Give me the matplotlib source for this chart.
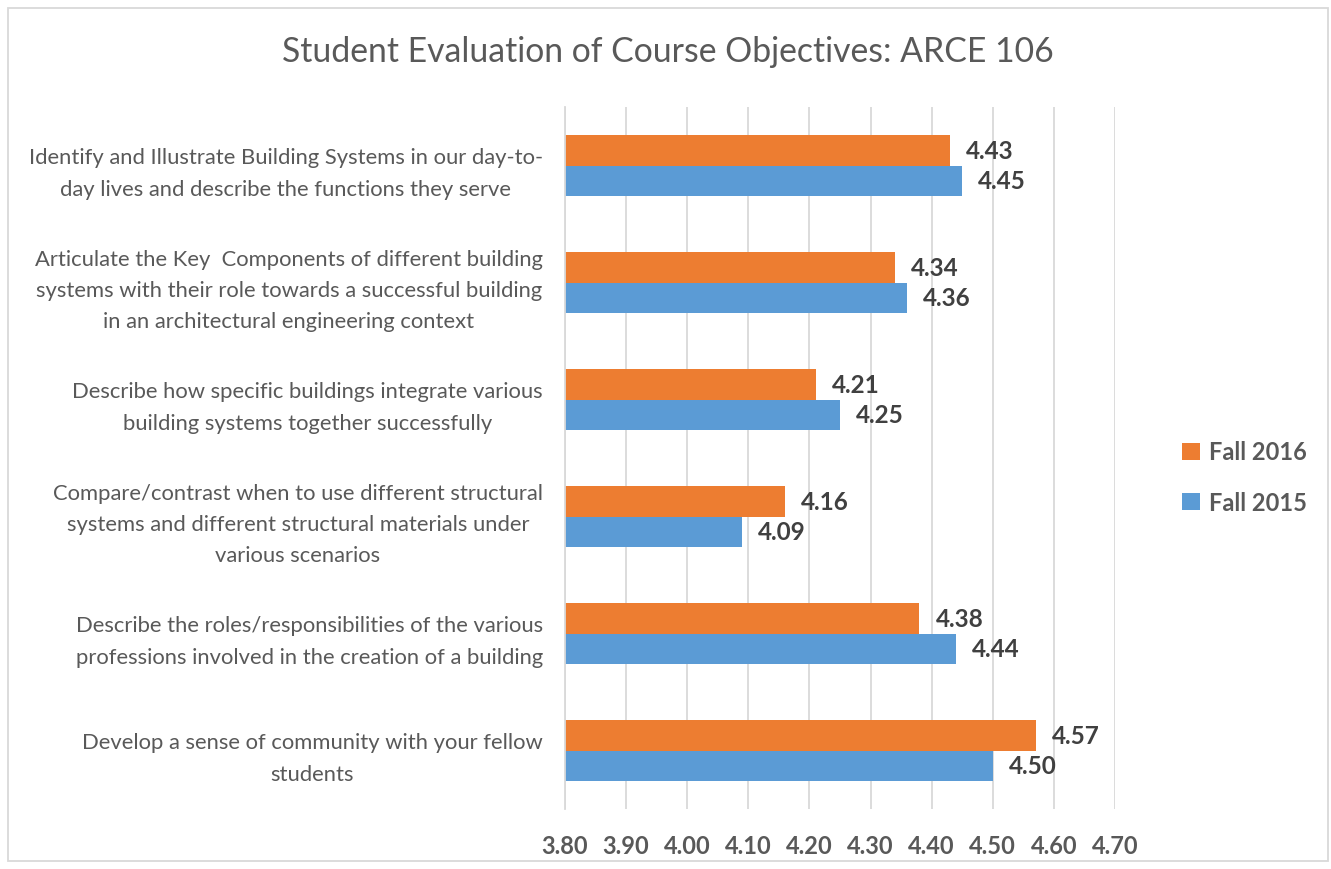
import matplotlib
matplotlib.use("Agg")
import matplotlib.pyplot as plt
from matplotlib.patches import Rectangle
import numpy as np

plt.rcParams['font.family'] = ['Lato', 'DejaVu Sans']

categories = [
    "Identify and Illustrate Building Systems in our day-to-\nday lives and describe the functions they serve",
    "Articulate the Key  Components of different building\nsystems with their role towards a successful building\nin an architectural engineering context",
    "Describe how specific buildings integrate various\nbuilding systems together successfully",
    "Compare/contrast when to use different structural\nsystems and different structural materials under\nvarious scenarios",
    "Describe the roles/responsibilities of the various\nprofessions involved in the creation of a building",
    "Develop a sense of community with your fellow\nstudents",
]
fall_2016 = [4.43, 4.34, 4.21, 4.16, 4.38, 4.57]
fall_2015 = [4.45, 4.36, 4.25, 4.09, 4.44, 4.50]
series_names = ["Fall 2016", "Fall 2015"]
x_ticks = [3.80, 3.90, 4.00, 4.10, 4.20, 4.30, 4.40, 4.50, 4.60, 4.70]
title = "Student Evaluation of Course Objectives: ARCE 106"

ORANGE = "#ED7D31"
BLUE = "#5B9BD5"
TEXT = "#595959"
GRID = "#D9D9D9"

W, H = 1331, 870
fig = plt.figure(figsize=(W / 100, H / 100), dpi=100)
ax = fig.add_axes([565 / W, 1 - 810 / H, (1115 - 565) / W, (810 - 108) / H])

y = np.arange(len(categories))
h = 0.26
ax.barh(y - h / 2, fall_2016, height=h, left=0, color=ORANGE, label=series_names[0], zorder=3)
ax.barh(y + h / 2, fall_2015, height=h, left=0, color=BLUE, label=series_names[1], zorder=3)

for yi, v in zip(y - h / 2, fall_2016):
    ax.annotate(f"{v:.2f}", (v, yi), xytext=(11.5, 0), textcoords="offset points",
                ha="left", va="center", fontsize=17.5, fontweight="bold", color="#404040")
for yi, v in zip(y + h / 2, fall_2015):
    ax.annotate(f"{v:.2f}", (v, yi), xytext=(11.5, 0), textcoords="offset points",
                ha="left", va="center", fontsize=17.5, fontweight="bold", color="#404040")

ax.set_xlim(x_ticks[0], x_ticks[-1])
ax.set_ylim(len(categories) - 0.5, -0.5)
ax.set_xticks(x_ticks)
ax.set_xticklabels([f"{t:.2f}" for t in x_ticks], fontsize=17, fontweight="bold", color=TEXT)
ax.tick_params(axis="x", length=0, pad=18)
ax.set_yticks(y)
ax.set_yticklabels(categories, fontsize=15.8, color=TEXT, multialignment="center", linespacing=1.7)
ax.tick_params(axis="y", length=0, pad=16)
ax.grid(axis="x", color=GRID, linewidth=1.3, zorder=0)
for s in ["top", "right", "bottom"]:
    ax.spines[s].set_visible(False)
ax.spines["left"].set_color(GRID)
ax.spines["left"].set_linewidth(1.3)
ax.spines["left"].set_zorder(4)

fig.text(668 / W, 1 - 52 / H, title, ha="center", va="center", fontsize=24.3, color=TEXT)

handles, labels = ax.get_legend_handles_labels()
leg = fig.legend(handles, labels, loc="center left", bbox_to_anchor=(1170 / W, 1 - 478 / H),
                 frameon=False, prop={"size": 17, "weight": "bold"}, handlelength=0.75,
                 handleheight=0.75, handletextpad=0.4, labelspacing=1.15, borderpad=0)
for t in leg.get_texts():
    t.set_color(TEXT)

fig.patches.append(Rectangle((8 / W, 1 - 862 / H), (1328 - 8) / W, (862 - 9) / H,
                             transform=fig.transFigure, fill=False, edgecolor=GRID, linewidth=1.3))

fig.savefig("out.png", dpi=100)
